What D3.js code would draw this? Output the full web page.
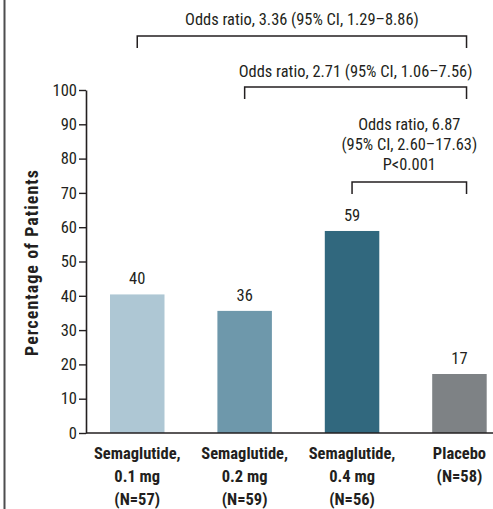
<!DOCTYPE html>
<html>
<head>
<meta charset="utf-8">
<script src="https://d3js.org/d3.v7.min.js"></script>
<style>
  body { margin: 0; background: #fff; }
  text { font-family: "Roboto Condensed", "Roboto", sans-serif; fill: #231f20; }
</style>
</head>
<body>
<div id="chart"></div>
<script>
// data
var groups = ["sema01", "sema02", "sema04", "placebo"];
var groupLabels = [
    ["Semaglutide,", "0.1 mg", "(N=57)"],
    ["Semaglutide,", "0.2 mg", "(N=59)"],
    ["Semaglutide,", "0.4 mg", "(N=56)"],
    ["Placebo", "(N=58)"]
];
var percentages = [40.4, 35.6, 58.9, 17.2];
var valueLabels = ["40", "36", "59", "17"];
var barColors = ["#aec7d4", "#6e98ab", "#31687e", "#7e8285"];
var yTicks = [0, 10, 20, 30, 40, 50, 60, 70, 80, 90, 100];

// comparisons against placebo
var comparisons = [
    { from: "sema01", lines: ["Odds ratio, 3.36 (95% CI, 1.29\u20138.86)"] },
    { from: "sema02", lines: ["Odds ratio, 2.71 (95% CI, 1.06\u20137.56)"] },
    { from: "sema04", lines: ["Odds ratio, 6.87", "(95% CI, 2.60\u201317.63)", "P<0.001"] }
];

var width = 493, height = 509;

var svg = d3.select("#chart").append("svg")
    .attr("width", width)
    .attr("height", height)
    .style("background-color", "white");

// left frame rule
svg.append("line")
    .attr("x1", 4.5).attr("x2", 4.5)
    .attr("y1", 0).attr("y2", height)
    .style("stroke", "#4d4d4f")
    .style("stroke-width", 2);

var x = d3.scaleBand()
    .domain(groups)
    .range([86, 510.7])
    .paddingInner(0.4926)
    .paddingOuter(0.2235);

var y = d3.scaleLinear()
    .domain([0, 100])
    .range([433, 90]);

// bars
svg.append("g")
    .attr("class", "bars")
    .selectAll("rect")
    .data(groups)
    .enter()
    .append("rect")
    .attr("x", function(d) { return x(d); })
    .attr("y", function(d, i) { return y(percentages[i]); })
    .attr("width", x.bandwidth())
    .attr("height", function(d, i) { return y(0) - y(percentages[i]); })
    .attr("fill", function(d, i) { return barColors[i]; });

// value labels
svg.append("g")
    .attr("class", "values")
    .selectAll("text")
    .data(groups)
    .enter()
    .append("text")
    .attr("x", function(d) { return x(d) + x.bandwidth() / 2; })
    .attr("y", function(d, i) { return y(percentages[i]) - 10; })
    .style("text-anchor", "middle")
    .style("font-size", "16.5px")
    .text(function(d, i) { return valueLabels[i]; });

// y axis
var yAxis = svg.append("g")
    .attr("class", "y-axis")
    .attr("transform", "translate(86,0)")
    .call(d3.axisLeft(y).tickValues(yTicks).tickSizeInner(7).tickSizeOuter(0).tickPadding(2));

yAxis.select(".domain").style("stroke", "#231f20").style("stroke-width", 1.6);
yAxis.selectAll(".tick line").style("stroke", "#231f20").style("stroke-width", 1.4);
yAxis.selectAll(".tick text")
    .style("font-family", "'Roboto Condensed', Roboto, sans-serif")
    .style("font-size", "16.5px")
    .style("fill", "#231f20");

// x baseline
svg.append("line")
    .attr("x1", 86).attr("x2", width)
    .attr("y1", y(0)).attr("y2", y(0))
    .style("stroke", "#231f20")
    .style("stroke-width", 1.6);

// y title
svg.append("text")
    .attr("transform", "translate(38," + (y(50) + 1) + ") rotate(-90)")
    .style("text-anchor", "middle")
    .style("font-size", "18px")
    .style("letter-spacing", "1px")
    .style("font-weight", "bold")
    .text("Percentage of Patients");

// category labels
var cats = svg.append("g")
    .attr("class", "categories")
    .selectAll("text")
    .data(groups)
    .enter()
    .append("text")
    .attr("x", function(d) { return x(d) + x.bandwidth() / 2; })
    .attr("y", 459)
    .style("text-anchor", "middle")
    .style("font-size", "16.5px")
    .style("font-weight", "bold");

cats.selectAll("tspan")
    .data(function(d, i) { return groupLabels[i]; })
    .enter()
    .append("tspan")
    .attr("x", function() { var g = d3.select(this.parentNode).datum(); return x(g) + x.bandwidth() / 2; })
    .attr("dy", function(d, j) { return j === 0 ? 0 : 23; })
    .text(function(d) { return d; });

// brackets
var bracketY = [36, 87, 182];
var textBase = [25, 77, 130];
var rightEnd = x("placebo") + x.bandwidth() * 0.63;

var brackets = svg.append("g")
    .attr("class", "brackets")
    .selectAll("g")
    .data(comparisons)
    .enter()
    .append("g");

brackets.append("path")
    .attr("d", function(d, i) {
        var x0 = x(d.from) + x.bandwidth() / 2;
        return "M" + x0 + "," + (bracketY[i] + 12) + "V" + bracketY[i] + "H" + rightEnd + "V" + (bracketY[i] + 12);
    })
    .style("fill", "none")
    .style("stroke", "#231f20")
    .style("stroke-width", 1.5);

brackets.each(function(d, i) {
    var cx = (x(d.from) + x.bandwidth() / 2 + rightEnd) / 2;
    d3.select(this).selectAll("text")
        .data(d.lines)
        .enter()
        .append("text")
        .attr("x", cx)
        .attr("y", function(line, j) { return textBase[i] + j * 20; })
        .style("text-anchor", "middle")
        .style("font-size", "16.4px")
        .text(function(line) { return line; });
});
</script>
</body>
</html>
